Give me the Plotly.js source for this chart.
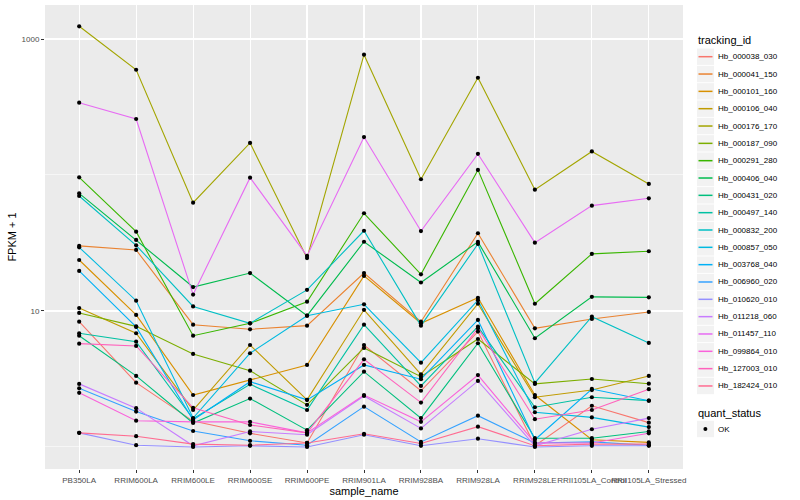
<!DOCTYPE html>
<html>
<head>
<meta charset="utf-8">
<script src="https://cdn.plot.ly/plotly-3.0.1.min.js"></script>
<style>html,body{margin:0;padding:0;background:#fff;}#chart{width:800px;height:500px;}</style>
</head>
<body>
<div id="chart"></div>
<script>
// x categories
const samples = ['PB350LA','RRIM600LA','RRIM600LE','RRIM600SE','RRIM600PE','RRIM901LA','RRIM928BA','RRIM928LA','RRIM928LE','RRII105LA_Control','RRII105LA_Stressed'];

// FPKM + 1 per tracking_id
const Hb_000038_030 = [8.34, 2.97, 1.55, 1.26, 1.07, 5.62, 2.59, 7.05, 1.02, 2.01, 1.51];
const Hb_000041_150 = [30.1, 28.1, 7.93, 7.33, 7.80, 19.0, 8.34, 37.3, 7.46, 8.73, 9.84];
const Hb_000101_160 = [23.7, 9.35, 2.41, 3.11, 4.01, 18.1, 8.12, 12.5, 2.41, 1.13, 1.08];
const Hb_000106_040 = [10.5, 6.86, 1.87, 5.62, 2.22, 10.2, 3.42, 11.3, 2.32, 2.62, 3.33];
const Hb_000176_170 = [1240, 594, 62.6, 172, 24.5, 767, 93, 519, 78, 149, 86];
const Hb_000187_090 = [9.67, 7.71, 4.83, 3.64, 2.04, 5.35, 3.29, 6.22, 2.91, 3.16, 2.92];
const Hb_000291_280 = [96.2, 38.3, 6.58, 8.12, 11.7, 52.3, 18.6, 109, 11.3, 26.3, 27.5];
const Hb_000406_040 = [73.3, 33.3, 15.0, 19.0, 9.23, 32.3, 16.2, 32.2, 6.30, 12.7, 12.6];
const Hb_000431_020 = [6.58, 3.33, 1.50, 2.27, 1.33, 3.58, 1.63, 5.79, 1.16, 1.16, 1.30];
const Hb_000497_140 = [6.86, 5.95, 1.61, 2.89, 1.87, 7.93, 2.81, 7.67, 1.96, 2.32, 2.19];
const Hb_000832_200 = [70.1, 30.4, 10.8, 8.12, 14.3, 38.9, 7.80, 31.1, 2.96, 9.08, 5.82];
const Hb_000857_050 = [29.4, 11.9, 1.63, 4.89, 9.23, 11.2, 4.17, 12.0, 1.80, 1.65, 1.40];
const Hb_003768_040 = [19.7, 7.63, 1.58, 3.02, 2.22, 4.01, 3.15, 8.59, 1.13, 2.67, 2.19];
const Hb_006960_020 = [2.70, 1.82, 1.31, 1.11, 1.03, 1.98, 1.09, 1.70, 1.07, 1.09, 1.03];
const Hb_010620_010 = [1.27, 1.03, 1.00, 1.02, 1.00, 1.23, 1.02, 1.15, 1.00, 1.02, 1.02];
const Hb_011218_060 = [2.91, 1.93, 1.02, 1.30, 1.23, 2.37, 1.37, 3.06, 1.02, 1.35, 1.63];
const Hb_011457_110 = [340, 258, 13.2, 95.6, 25.4, 190, 38.7, 143, 31.8, 59.5, 67.4];
const Hb_099864_010 = [2.50, 1.56, 1.53, 1.53, 1.27, 2.41, 1.53, 3.38, 1.07, 1.07, 1.26];
const Hb_127003_010 = [5.75, 5.53, 1.94, 1.45, 1.27, 4.41, 2.12, 7.46, 1.60, 1.87, 2.66];
const Hb_182424_010 = [1.27, 1.20, 1.05, 1.03, 1.07, 1.25, 1.06, 1.41, 1.02, 1.05, 1.05];

const trackingIds = ['Hb_000038_030','Hb_000041_150','Hb_000101_160','Hb_000106_040','Hb_000176_170','Hb_000187_090','Hb_000291_280','Hb_000406_040','Hb_000431_020','Hb_000497_140','Hb_000832_200','Hb_000857_050','Hb_003768_040','Hb_006960_020','Hb_010620_010','Hb_011218_060','Hb_011457_110','Hb_099864_010','Hb_127003_010','Hb_182424_010'];
const seriesValues = [Hb_000038_030,Hb_000041_150,Hb_000101_160,Hb_000106_040,Hb_000176_170,Hb_000187_090,Hb_000291_280,Hb_000406_040,Hb_000431_020,Hb_000497_140,Hb_000832_200,Hb_000857_050,Hb_003768_040,Hb_006960_020,Hb_010620_010,Hb_011218_060,Hb_011457_110,Hb_099864_010,Hb_127003_010,Hb_182424_010];
const colors = ['#F8766D','#EA8331','#D89000','#C09B00','#A3A500','#7CAE00','#39B600','#00BB4E','#00BF7D','#00C1A3','#00BFC4','#00BAE0','#00B0F6','#35A2FF','#9590FF','#C77CFF','#E76BF3','#FA62DB','#FF62BC','#FF6C91'];
const quantStatus = ['OK'];

const FONT = 'Liberation Sans, Arial, Helvetica, sans-serif';

// plot-area pixel box used only to place the hand-made legend
const PL = 45, PR = 683, PT = 5, PBm = 469;
const px = v => (v - PL) / (PR - PL);
const py = v => (PBm - v) / (PBm - PT);

const traces = seriesValues.map((vals, i) => ({
  type: 'scatter', mode: 'lines', x: samples, y: vals, name: trackingIds[i],
  line: {color: colors[i], width: 1.1}, showlegend: false, hoverinfo: 'skip'
}));

const allX = [], allY = [];
seriesValues.forEach(vals => vals.forEach((v, j) => { allX.push(samples[j]); allY.push(v); }));
traces.push({
  type: 'scatter', mode: 'markers', x: allX, y: allY, name: quantStatus[0],
  marker: {color: 'black', size: 4.2}, showlegend: false, hoverinfo: 'skip'
});

const shapes = [], annotations = [];
annotations.push({xref:'paper', yref:'paper', x: px(696), y: py(40), xanchor:'left', yanchor:'middle',
  text:'tracking_id', showarrow:false, font:{family:FONT, size:11, color:'#000'}});
const step = 17.33, first = 56.7;
trackingIds.forEach((id, i) => {
  const cy = first + i * step;
  shapes.push({type:'rect', xref:'paper', yref:'paper', x0:px(697), x1:px(714), y0:py(cy+8.2), y1:py(cy-8.2),
    fillcolor:'#F2F2F2', line:{width:0}});
  shapes.push({type:'line', xref:'paper', yref:'paper', x0:px(698.5), x1:px(712.5), y0:py(cy), y1:py(cy),
    line:{color:colors[i], width:1.5}});
  annotations.push({xref:'paper', yref:'paper', x: px(716), y: py(cy), xanchor:'left', yanchor:'middle',
    text:id, showarrow:false, font:{family:FONT, size:8, color:'#000'}});
});
annotations.push({xref:'paper', yref:'paper', x: px(696), y: py(413), xanchor:'left', yanchor:'middle',
  text:'quant_status', showarrow:false, font:{family:FONT, size:11, color:'#000'}});
shapes.push({type:'rect', xref:'paper', yref:'paper', x0:px(697), x1:px(714), y0:py(437.2), y1:py(420.8),
  fillcolor:'#F2F2F2', line:{width:0}});
shapes.push({type:'circle', xref:'paper', yref:'paper', x0:px(703.4), x1:px(707.4), y0:py(431), y1:py(427),
  fillcolor:'#000', line:{width:0}});
annotations.push({xref:'paper', yref:'paper', x: px(716), y: py(429), xanchor:'left', yanchor:'middle',
  text:quantStatus[0], showarrow:false, font:{family:FONT, size:8, color:'#000'}});

const layout = {
  width: 800, height: 500,
  margin: {l: PL, r: 800 - PR, t: PT, b: 500 - PBm, pad: 0},
  paper_bgcolor: '#FFFFFF', plot_bgcolor: '#EBEBEB',
  font: {family: FONT},
  showlegend: false,
  xaxis: {
    type: 'category', categoryorder: 'array', categoryarray: samples,
    range: [-0.6, 10.6], tickmode: 'array', tickvals: samples, ticktext: samples,
    showgrid: true, gridcolor: '#FFFFFF', gridwidth: 1.1,
    ticks: 'outside', ticklen: 3, tickwidth: 1, tickcolor: '#333333',
    tickfont: {family: FONT, size: 8, color: '#4D4D4D'}, tickangle: 0,
    zeroline: false, showline: false, automargin: false,
    title: {text: 'sample_name', font: {family: FONT, size: 11, color: '#000'}, standoff: 0}
  },
  yaxis: {
    type: 'log', range: [-0.162, 3.25],
    tickmode: 'array', tickvals: [10, 1000], ticktext: ['10', '1000'],
    showgrid: true, gridcolor: '#FFFFFF', gridwidth: 1.1,
    minor: {tickmode: 'array', tickvals: [1, 100], showgrid: true, gridcolor: '#FFFFFF', gridwidth: 0.55, ticks: ''},
    ticks: 'outside', ticklen: 3, tickwidth: 1, tickcolor: '#333333',
    tickfont: {family: FONT, size: 8, color: '#4D4D4D'},
    zeroline: false, showline: false, automargin: false,
    title: {text: 'FPKM + 1', font: {family: FONT, size: 11, color: '#000'}, standoff: 2}
  },
  shapes: shapes,
  annotations: annotations
};

Plotly.newPlot('chart', traces, layout, {staticPlot: true, displayModeBar: false});
</script>
</body>
</html>
